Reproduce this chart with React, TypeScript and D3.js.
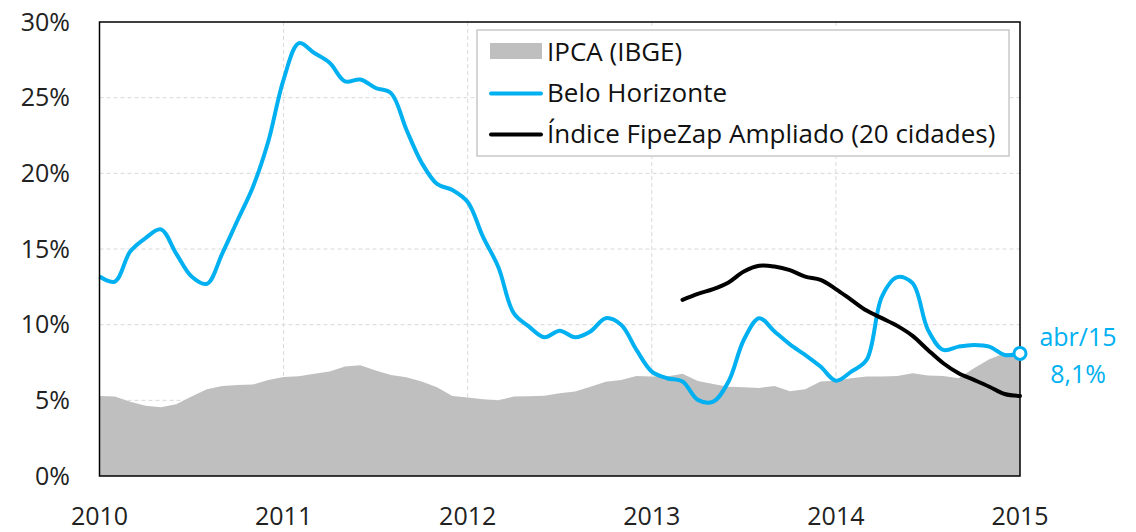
import { useEffect } from 'react';
import * as d3 from 'd3';

// monthly values, jan/2010 .. jan/2015 (index 0..60), % 12m
const ipca = [
  5.29, 5.25, 4.91, 4.65, 4.54, 4.74, 5.25, 5.73, 5.95, 6.02, 6.04, 6.35, 6.55, 6.59, 6.75, 6.9,
  7.23, 7.32, 6.97, 6.68, 6.53, 6.24, 5.86, 5.29, 5.18, 5.07, 5.0, 5.25, 5.27, 5.31, 5.47,
  5.58, 5.9, 6.22, 6.35, 6.61, 6.57, 6.57, 6.75, 6.28, 6.08, 5.9, 5.86, 5.82, 5.95, 5.6,
  5.73, 6.24, 6.3, 6.46, 6.57, 6.57, 6.61, 6.79, 6.64, 6.61, 6.46, 7.12, 7.72, 8.11, 8.15,
];

const beloHorizonte = [
  13.18, 12.85, 14.83, 15.72, 16.3, 14.7, 13.18, 12.7, 14.7, 16.9, 19.1, 22.1, 26.2, 28.6, 27.95, 27.3,
  26.08, 26.2, 25.64, 25.3, 22.9, 20.7, 19.3, 18.9, 18.1, 15.8, 13.8, 10.76, 9.87, 9.17, 9.6,
  9.17, 9.55, 10.43, 9.99, 8.33, 6.9, 6.46, 6.24, 5.03, 4.91, 6.24, 9.0, 10.43, 9.55, 8.7,
  8.0, 7.23, 6.3, 6.9, 7.67, 11.86, 13.14, 12.74, 9.66, 8.33, 8.55, 8.66, 8.55, 8.0, 8.1,
];

// FipeZap starts at month index 38
const fipeZapStart = 38;
const fipeZap = [
  11.64, 12.04, 12.35, 12.79, 13.51, 13.89, 13.84, 13.6, 13.18, 12.96, 12.35, 11.64, 10.93, 10.43,
  9.92, 9.26, 8.33, 7.45, 6.79, 6.35, 5.9, 5.42, 5.29,
];

const yearLabels = ['2010', '2011', '2012', '2013', '2014', '2015'];
const yTicks = [0, 5, 10, 15, 20, 25, 30];
const legendLabels = ['IPCA (IBGE)', 'Belo Horizonte', 'Índice FipeZap Ampliado (20 cidades)'];
const lastLabel = 'abr/15';
const lastValueLabel = '8,1%';

const BLUE = '#00b0f0';
const GRAY = '#bfbfbf';
const FONT = "'Segoe UI', 'Open Sans', sans-serif";

const W = 1136;
const H = 532;
const left = 99.5;
const right = 1020;
const top = 22;
const bottom = 476;

export default function App() {
  useEffect(() => {
    document.body.style.margin = '0';
  }, []);

  const x = d3.scaleLinear().domain([0, 60]).range([left, right]);
  const y = d3.scaleLinear().domain([0, 30]).range([bottom, top]);

  const area = d3
    .area<number>()
    .x((_, i) => x(i))
    .y0(y(0))
    .y1((d) => y(d));

  const line = d3
    .line<number>()
    .x((_, i) => x(i))
    .y((d) => y(d))
    .curve(d3.curveCatmullRom.alpha(0.5));

  const fipeLine = d3
    .line<number>()
    .x((_, i) => x(i + fipeZapStart))
    .y((d) => y(d))
    .curve(d3.curveCatmullRom.alpha(0.5));

  const lastIdx = beloHorizonte.length - 1;
  const legX = 477;
  const legY = 30;

  return (
    <svg width={W} height={H} style={{ display: 'block', fontFamily: FONT }}>
      <rect width={W} height={H} fill="#fff" />

      {/* grid */}
      <g stroke="#d9d9d9" strokeWidth={1} strokeDasharray="4,3">
        {yTicks.slice(1, -1).map((t) => (
          <line key={'h' + t} x1={left} x2={right} y1={y(t)} y2={y(t)} />
        ))}
        {yearLabels.slice(1, -1).map((_, i) => (
          <line key={'v' + i} x1={x((i + 1) * 12)} x2={x((i + 1) * 12)} y1={top} y2={bottom} />
        ))}
      </g>

      <path d={area(ipca) ?? ''} fill={GRAY} />
      <path d={line(beloHorizonte) ?? ''} fill="none" stroke={BLUE} strokeWidth={4} strokeLinejoin="round" />
      <path d={fipeLine(fipeZap) ?? ''} fill="none" stroke="#000" strokeWidth={4} strokeLinejoin="round" strokeLinecap="round" />

      {/* frame */}
      <rect x={left} y={top} width={right - left} height={bottom - top} fill="none" stroke="#000" strokeWidth={1.5} />

      {/* y axis labels */}
      <g fontSize={25} fill="#222" textAnchor="end">
        {yTicks.map((t) => (
          <text key={t} x={70} y={y(t)} dy="0.35em">
            {t}%
          </text>
        ))}
      </g>

      {/* x axis labels */}
      <g fontSize={25} fill="#222" textAnchor="middle">
        {yearLabels.map((lab, i) => (
          <text key={lab} x={x(i * 12)} y={525}>
            {lab}
          </text>
        ))}
      </g>

      {/* last point */}
      <circle cx={x(lastIdx)} cy={y(beloHorizonte[lastIdx])} r={6} fill="#fff" stroke={BLUE} strokeWidth={3} />
      <g fontSize={25} fill={BLUE} textAnchor="middle">
        <text x={1078} y={346}>
          {lastLabel}
        </text>
        <text x={1078} y={383}>
          {lastValueLabel}
        </text>
      </g>

      {/* legend */}
      <g>
        <rect x={legX} y={legY} width={532} height={126} fill="#fff" stroke="#c8c8c8" strokeWidth={1.5} />
        <rect x={490} y={43} width={52} height={16} fill={GRAY} />
        <line x1={491} x2={541} y1={93.5} y2={93.5} stroke={BLUE} strokeWidth={4} strokeLinecap="round" />
        <line x1={491} x2={541} y1={134.5} y2={134.5} stroke="#000" strokeWidth={4} strokeLinecap="round" />
        <g fontSize={26} fill="#111">
          {legendLabels.map((lab, i) => (
            <text key={lab} x={547} y={61 + i * 41}>
              {lab}
            </text>
          ))}
        </g>
      </g>
    </svg>
  );
}
